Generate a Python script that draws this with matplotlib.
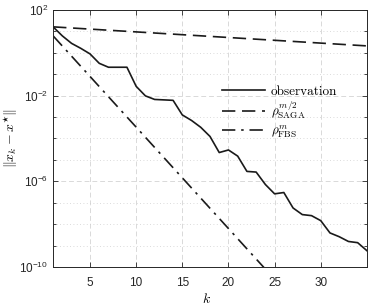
import math
import matplotlib
matplotlib.use("Agg")
import matplotlib.pyplot as plt
from matplotlib.ticker import FixedLocator, FuncFormatter, NullFormatter
from matplotlib.font_manager import FontProperties

# iterations and measured error
k_obs = list(range(1, 36))
err_obs = [16.1, 6.1, 2.73, 1.6, 0.88, 0.32, 0.21, 0.21, 0.21, 0.027,
           9.7e-3, 6.6e-3, 6.3e-3, 6.0e-3, 1.25e-3, 6.9e-4, 3.3e-4, 1.24e-4, 2.2e-5, 2.9e-5,
           1.5e-5, 2.9e-6, 2.7e-6, 7.1e-7, 2.6e-7, 3.0e-7, 5.7e-8, 2.8e-8, 2.5e-8, 1.46e-8,
           3.9e-9, 2.6e-9, 1.56e-9, 1.37e-9, 5.8e-10]

# theoretical rates (straight lines on log scale)
k_rate = [1, 35]
rho_saga = [16.1, 2.08]
rho_fbs = [6.1, 5.0e-16]

fig = plt.figure(figsize=(3.74, 3.08), dpi=100)
ax = fig.add_axes([0.142, 0.133, 0.839, 0.835])

ax.plot(k_obs, err_obs, color="#1a1a1a", lw=1.2, ls="-", label="observation")
ax.plot(k_rate, rho_saga, color="#1a1a1a", lw=1.2, ls=(0, (8, 4)),
        label=r"$\rho_{\mathrm{SAGA}}^{m/2}$")
ax.plot(k_rate, rho_fbs, color="#1a1a1a", lw=1.2, ls=(0, (8, 3.5, 1.5, 3.5)),
        label=r"$\rho_{\mathrm{FBS}}^{m}$")

ax.set_yscale("log")
ax.set_xlim(1, 35)
ax.set_ylim(1e-10, 1e2)
ax.set_xticks([5, 10, 15, 20, 25, 30])
ax.yaxis.set_major_locator(FixedLocator([1e-10, 1e-6, 1e-2, 1e2]))
ax.yaxis.set_minor_locator(FixedLocator([10.0 ** e for e in range(-10, 3)]))
ax.yaxis.set_minor_formatter(NullFormatter())


def fmt(v, pos):
    e = int(round(math.log10(v)))
    return r"$\mathregular{10^{%d}}$" % e


ax.yaxis.set_major_formatter(FuncFormatter(fmt))

tick_col = "#262626"
ax.tick_params(which="both", direction="in", top=True, right=True,
               colors=tick_col, labelsize=8.5, width=0.6)
ax.tick_params(which="major", length=3.5)
ax.tick_params(which="minor", length=2)
ax.tick_params(axis="x", pad=7)
for lab in ax.get_xticklabels() + ax.get_yticklabels():
    lab.set_family("Liberation Sans")
for s in ax.spines.values():
    s.set_color(tick_col)
    s.set_linewidth(0.7)

ax.grid(True, which="major", axis="both", color="#d9d9d9", ls=(0, (5, 3)), lw=0.7)
ax.grid(True, which="minor", axis="y", color="#cfcfcf", ls=(0, (1, 3)), lw=0.6)
ax.set_axisbelow(True)

ax.set_xlabel(r"$k$", fontsize=10, math_fontfamily="cm", va="center")
ax.xaxis.set_label_coords(0.49, -0.125)
ax.set_ylabel(r"$\|x_k - x^{\star}\|$", fontsize=10, math_fontfamily="cm", va="center")
ax.yaxis.set_label_coords(-0.135, 0.5)

leg_font = FontProperties(family="cmr10", size=9.5, math_fontfamily="cm")
ax.legend(loc="center left", bbox_to_anchor=(0.5, 0.60), frameon=False,
          prop=leg_font, handlelength=3.3, handletextpad=0.4, labelspacing=0.15)

fig.savefig("out.png", dpi=100)
